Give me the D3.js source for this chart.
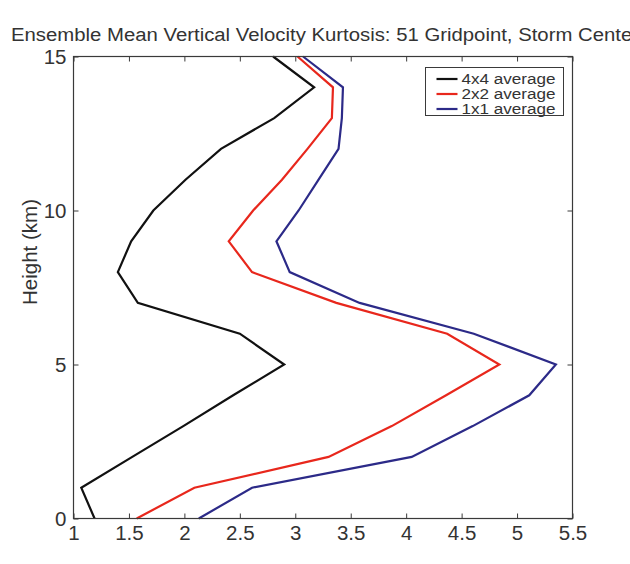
<!DOCTYPE html>
<html>
<head>
<meta charset="utf-8">
<script src="https://cdn.jsdelivr.net/npm/d3@7"></script>
<style>
  html, body { margin: 0; padding: 0; background: #fff; }
  svg { display: block; font-family: "Liberation Sans", Arial, sans-serif; }
</style>
</head>
<body>
<svg id="chart" width="630" height="564"></svg>
<script>
// Heights (km) at which kurtosis was sampled
const heights = [0, 1, 2, 3, 4, 5, 6, 7, 8, 9, 10, 11, 12, 13, 14, 15];

// Kurtosis profiles for each averaging window
const avg4x4 = [1.19, 1.07, 1.53, 1.99, 2.44, 2.90, 2.50, 1.58, 1.40, 1.52, 1.72, 2.01, 2.33, 2.81, 3.17, 2.80];
const avg2x2 = [1.57, 2.09, 3.30, 3.87, 4.36, 4.84, 4.37, 3.37, 2.61, 2.40, 2.62, 2.88, 3.11, 3.33, 3.34, 3.02];
const avg1x1 = [2.13, 2.61, 4.05, 4.60, 5.11, 5.35, 4.61, 3.58, 2.95, 2.83, 3.03, 3.21, 3.39, 3.42, 3.43, 3.07];

const xTicks = [1, 1.5, 2, 2.5, 3, 3.5, 4, 4.5, 5, 5.5];
const yTicks = [0, 5, 10, 15];

const seriesNames = ["4x4 average", "2x2 average", "1x1 average"];
const seriesColors = ["#111111", "#e8271c", "#2c2a88"];
const seriesValues = [avg4x4, avg2x2, avg1x1];

const svg = d3.select("#chart");
const plotL = 73.5, plotR = 572.5, plotT = 56.5, plotB = 518.5;

const x = d3.scaleLinear().domain([1, 5.5]).range([plotL, plotR]);
const y = d3.scaleLinear().domain([0, 15]).range([plotB, plotT]);

const axisColor = "#3a3a3a";
const textColor = "#333";

// Title (wide sans lettering, runs off the right edge)
svg.append("text")
  .attr("transform", "translate(11,41) scale(1.13,1)")
  .attr("font-size", 18)
  .attr("fill", textColor)
  .text("Ensemble Mean Vertical Velocity Kurtosis: 51 Gridpoint, Storm Center");

// Profiles
const line = d3.line()
  .x(d => x(d[0]))
  .y(d => y(d[1]));

seriesValues.forEach((vals, i) => {
  svg.append("path")
    .datum(vals.map((v, j) => [v, heights[j]]))
    .attr("fill", "none")
    .attr("stroke", seriesColors[i])
    .attr("stroke-width", 2.2)
    .attr("stroke-linejoin", "miter")
    .attr("d", line);
});

// Axes with inward ticks on all four sides
const tickLen = 5;
const bottomAxis = d3.axisBottom(x).tickValues(xTicks).tickSize(-tickLen).tickPadding(7)
  .tickFormat(d3.format("~g"));
const topAxis = d3.axisTop(x).tickValues(xTicks).tickSize(-tickLen).tickFormat("");
const leftAxis = d3.axisLeft(y).tickValues(yTicks).tickSize(-tickLen).tickPadding(7)
  .tickFormat(d3.format("~g"));
const rightAxis = d3.axisRight(y).tickValues(yTicks).tickSize(-tickLen).tickFormat("");

function styleAxis(g) {
  g.select(".domain").remove();
  g.selectAll(".tick line").attr("stroke", axisColor).attr("stroke-width", 1);
  g.selectAll(".tick text").attr("fill", textColor).attr("font-size", 20.5)
    .attr("font-family", "Liberation Sans, Arial, sans-serif");
}

svg.append("g").attr("transform", `translate(0,${plotB})`).call(bottomAxis).call(styleAxis);
svg.append("g").attr("transform", `translate(0,${plotT})`).call(topAxis).call(styleAxis);
svg.append("g").attr("transform", `translate(${plotL},0)`).call(leftAxis).call(styleAxis);
svg.append("g").attr("transform", `translate(${plotR},0)`).call(rightAxis).call(styleAxis);

// Frame
svg.append("rect")
  .attr("x", plotL).attr("y", plotT)
  .attr("width", plotR - plotL).attr("height", plotB - plotT)
  .attr("fill", "none").attr("stroke", axisColor).attr("stroke-width", 1.2);

// Y axis title
svg.append("text")
  .attr("transform", `translate(37,252) rotate(-90)`)
  .attr("text-anchor", "middle")
  .attr("font-size", 20.5)
  .attr("fill", textColor)
  .text("Height (km)");

// Legend
const lg = svg.append("g").attr("transform", "translate(425.5,67.5)");
lg.append("rect")
  .attr("width", 138).attr("height", 48)
  .attr("fill", "#fff").attr("stroke", axisColor).attr("stroke-width", 1);
seriesNames.forEach((name, i) => {
  const yy = 11.5 + i * 15;
  lg.append("line")
    .attr("x1", 11).attr("x2", 32).attr("y1", yy).attr("y2", yy)
    .attr("stroke", seriesColors[i]).attr("stroke-width", 2.2);
  lg.append("text")
    .attr("transform", `translate(36,${yy + 5}) scale(1.18,1)`)
    .attr("font-size", 14.5)
    .attr("fill", textColor)
    .text(name);
});
</script>
</body>
</html>
